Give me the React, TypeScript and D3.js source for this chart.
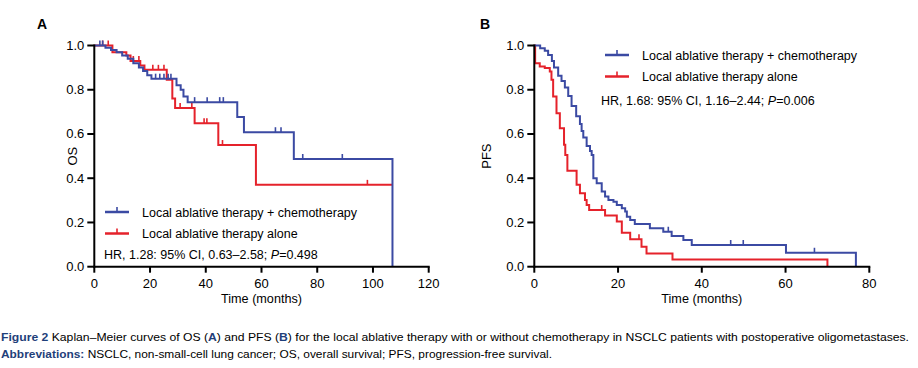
import React from 'react';
import * as d3 from 'd3';

// Panel A (OS) step data: [month, survival after drop]
const osChemoSteps: [number, number][] = [
  [0, 1], [4, 0.99], [6, 0.98], [8, 0.97], [10, 0.955], [12, 0.94], [14, 0.92],
  [16, 0.9], [17.5, 0.885], [19, 0.865], [20.5, 0.85], [29.5, 0.82], [31, 0.8],
  [32, 0.77], [33.5, 0.744], [51.3, 0.677], [53.7, 0.608], [71.6, 0.487], [107, 0],
];
const osChemoCensor = [2, 3, 22, 23.5, 25, 26.5, 27.5, 36, 40.5, 45, 46.3, 65, 67, 74.8, 89];

const osAloneSteps: [number, number][] = [
  [0, 1], [6.5, 0.97], [11.5, 0.955], [13, 0.93], [16.5, 0.91], [18, 0.89],
  [26, 0.845], [28, 0.76], [29, 0.718], [36, 0.649], [44.5, 0.55], [58, 0.37],
];
const osAloneEnd = 107;
const osAloneCensor = [3, 5, 14, 16, 21, 23, 25, 30.8, 35, 39.4, 40.4, 46, 98];

// Panel B (PFS)
const pfsChemoSteps: [number, number][] = [
  [0, 1], [1.4, 0.988], [2.5, 0.976], [3.3, 0.957], [4.2, 0.93], [4.7, 0.9],
  [5.7, 0.863], [6.5, 0.84], [7.3, 0.81], [8.1, 0.772], [8.9, 0.727], [10, 0.68],
  [10.9, 0.645], [11.3, 0.614], [11.7, 0.584], [12.5, 0.546], [13.3, 0.523],
  [13.7, 0.505], [14.1, 0.4], [14.9, 0.377], [16.1, 0.34], [16.9, 0.317],
  [17.7, 0.302], [18.9, 0.294], [19.7, 0.279], [20.9, 0.264], [21.7, 0.249],
  [22.1, 0.226], [22.9, 0.211], [24, 0.193], [27.6, 0.174], [30.8, 0.158],
  [32.8, 0.139], [35.6, 0.121], [37.6, 0.098], [60.1, 0.063], [76.8, 0],
];
const pfsChemoCensor = [32, 46.9, 49.9, 66.9];

const pfsAloneSteps: [number, number][] = [
  [0, 1], [0.2, 0.92], [1.3, 0.905], [2.5, 0.898], [3.7, 0.882], [4.1, 0.845],
  [4.5, 0.769], [5.3, 0.694], [6.1, 0.626], [7.1, 0.551], [7.4, 0.505],
  [7.9, 0.434], [10.1, 0.37], [10.9, 0.332], [12.1, 0.302], [12.5, 0.279],
  [13.1, 0.256], [16.9, 0.231], [19.7, 0.204], [20.9, 0.154], [22.9, 0.124],
  [25.6, 0.09], [26.8, 0.06], [33, 0.033], [70, 0],
];
const pfsAloneCensor = [16.1, 25];

const yTicks = [0, 0.2, 0.4, 0.6, 0.8, 1.0];
const osXTicks = [0, 20, 40, 60, 80, 100, 120];
const pfsXTicks = [0, 20, 40, 60, 80];
const seriesNames = ['Local ablative therapy + chemotherapy', 'Local ablative therapy alone'];

const BLUE = '#3b4aa3';
const RED = '#e5222b';
const FONT = 'Arial, "Liberation Sans", sans-serif';

const valueAt = (steps: [number, number][], t: number) => {
  const i = d3.bisector((d: [number, number]) => d[0]).right(steps, t) - 1;
  return steps[Math.max(0, i)][1];
};

interface Curve {
  steps: [number, number][];
  end?: number;
  censor: number[];
  color: string;
}

interface PanelProps {
  x0: number;
  x1: number;
  xMax: number;
  xTicks: number[];
  curves: Curve[];
  letter: string;
  letterX: number;
  yLabel: string;
  yLabelX: number;
  legendX: number;
  legendY: number;
  legendGap: number;
  hr: [string, string];
  hrX: number;
  hrY: number;
}

const Panel: React.FC<PanelProps> = (p) => {
  const x = d3.scaleLinear().domain([0, p.xMax]).range([p.x0, p.x1]);
  const y = d3.scaleLinear().domain([0, 1]).range([266.7, 45.5]);
  const line = d3
    .line<[number, number]>()
    .x((d) => x(d[0]))
    .y((d) => y(d[1]))
    .curve(d3.curveStepAfter);

  return (
    <g>
      <text x={p.letterX} y={29} fontFamily={FONT} fontWeight="bold" fontSize={14} textAnchor="middle">
        {p.letter}
      </text>
      {p.curves.map((c, i) => {
        const pts = c.end !== undefined ? [...c.steps, [c.end, c.steps[c.steps.length - 1][1]] as [number, number]] : c.steps;
        return (
          <g key={i}>
            <path d={line(pts) || ''} fill="none" stroke={c.color} strokeWidth={2} />
            {c.censor.map((t, j) => (
              <line key={j} x1={x(t)} x2={x(t)} y1={y(valueAt(c.steps, t))} y2={y(valueAt(c.steps, t)) - 5} stroke={c.color} strokeWidth={1.6} />
            ))}
          </g>
        );
      })}
      {/* axes */}
      <line x1={p.x0} x2={p.x0} y1={y(1) - 1} y2={y(0) + 1} stroke="#000" strokeWidth={2} />
      <line x1={p.x0 - 1} x2={p.x1 + 1} y1={y(0)} y2={y(0)} stroke="#000" strokeWidth={2} />
      {yTicks.map((t) => (
        <g key={t}>
          <line x1={p.x0 - 7} x2={p.x0} y1={y(t)} y2={y(t)} stroke="#000" strokeWidth={2} />
          <text x={p.x0 - 10} y={y(t) + 4.5} fontFamily={FONT} fontSize={13} textAnchor="end">
            {t.toFixed(1)}
          </text>
        </g>
      ))}
      {p.xTicks.map((t) => (
        <g key={t}>
          <line x1={x(t)} x2={x(t)} y1={y(0)} y2={y(0) + 6} stroke="#000" strokeWidth={2} />
          <text x={x(t)} y={287.5} fontFamily={FONT} fontSize={13} textAnchor="middle">
            {t}
          </text>
        </g>
      ))}
      <text x={(p.x0 + p.x1) / 2} y={303} fontFamily={FONT} fontSize={12.5} textAnchor="middle" textLength={81} lengthAdjust="spacingAndGlyphs">
        Time (months)
      </text>
      <text transform={`translate(${p.yLabelX},${y(0.5)}) rotate(-90)`} fontFamily={FONT} fontSize={13} textAnchor="middle">
        {p.yLabel}
      </text>
      {/* legend */}
      {[BLUE, RED].map((c, i) => {
        const ly = p.legendY + i * p.legendGap;
        return (
          <g key={c}>
            <line x1={p.legendX} x2={p.legendX + 24} y1={ly} y2={ly} stroke={c} strokeWidth={2.5} />
            <line x1={p.legendX + 12} x2={p.legendX + 12} y1={ly} y2={ly - 5} stroke={c} strokeWidth={1.6} />
            <text x={p.legendX + 37} y={ly + 4.5} fontFamily={FONT} fontSize={12.5}>
              {seriesNames[i]}
            </text>
          </g>
        );
      })}
      <text x={p.hrX} y={p.hrY} fontFamily={FONT} fontSize={12.5}>
        {p.hr[0]}
        <tspan fontStyle="italic">P</tspan>
        {p.hr[1]}
      </text>
    </g>
  );
};

export default function App() {
  return (
    <svg width={918} height={368} style={{ position: 'absolute', left: 0, top: 0, background: '#fff' }}>
      <Panel
        x0={94.3}
        x1={428.7}
        xMax={120}
        xTicks={osXTicks}
        curves={[
          { steps: osAloneSteps, end: osAloneEnd, censor: osAloneCensor, color: RED },
          { steps: osChemoSteps, censor: osChemoCensor, color: BLUE },
        ]}
        letter="A"
        letterX={42}
        yLabel="OS"
        yLabelX={77}
        legendX={105}
        legendY={212}
        legendGap={21.5}
        hr={['HR, 1.28: 95% CI, 0.63\u20132.58; ', '=0.498']}
        hrX={104}
        hrY={259}
      />
      <Panel
        x0={534.3}
        x1={869.3}
        xMax={80}
        xTicks={pfsXTicks}
        curves={[
          { steps: pfsAloneSteps, censor: pfsAloneCensor, color: RED },
          { steps: pfsChemoSteps, censor: pfsChemoCensor, color: BLUE },
        ]}
        letter="B"
        letterX={485}
        yLabel="PFS"
        yLabelX={491}
        legendX={605}
        legendY={55}
        legendGap={21.5}
        hr={['HR, 1.68: 95% CI, 1.16\u20132.44; ', '=0.006']}
        hrX={601}
        hrY={105}
      />
      <text x={1} y={341} fontFamily={FONT} fontSize={11.5} textLength={908} lengthAdjust="spacingAndGlyphs">
        <tspan fontWeight="bold" fill="#1f3f7a">Figure 2</tspan>
        {' Kaplan\u2013Meier curves of OS ('}
        <tspan fontWeight="bold" fill="#1f3f7a">A</tspan>
        {') and PFS ('}
        <tspan fontWeight="bold" fill="#1f3f7a">B</tspan>
        {') for the local ablative therapy with or without chemotherapy in NSCLC patients with postoperative oligometastases.'}
      </text>
      <text x={1} y={358} fontFamily={FONT} fontSize={11.5} textLength={551} lengthAdjust="spacingAndGlyphs">
        <tspan fontWeight="bold" fill="#1f3f7a">Abbreviations:</tspan>
        {' NSCLC, non-small-cell lung cancer; OS, overall survival; PFS, progression-free survival.'}
      </text>
    </svg>
  );
}
